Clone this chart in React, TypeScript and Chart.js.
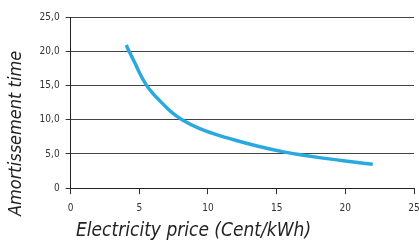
import React, { useEffect, useRef } from "react";
import { Chart, registerables } from "chart.js";

Chart.register(...registerables);

const prices = [4.05, 4.26, 4.7, 5.0, 5.47, 6.0, 6.5, 7.0, 7.5, 8.08, 9.4, 10.5, 12.0, 13.5, 15.5, 16.5, 18.0, 20.0, 22.0];
const amortisation = [20.9, 20.0, 18.2, 16.9, 15.2, 13.8, 12.75, 11.75, 10.85, 10.05, 8.7, 7.9, 7.0, 6.2, 5.3, 4.95, 4.5, 3.98, 3.5];
const xTicks = [0, 5, 10, 15, 20, 25];
const yTicks = [0, 5, 10, 15, 20, 25];
const xTitle = " Electricity price (Cent/kWh)";
const yTitle = "Amortissement time            ";

const FONT = "'Liberation Sans Narrow', 'DejaVu Sans Condensed', 'Liberation Sans', sans-serif";

export default function App() {
  const ref = useRef<HTMLCanvasElement | null>(null);
  useEffect(() => {
    if (!ref.current) return;
    const chart = new Chart(ref.current, {
      type: "scatter",
      data: {
        datasets: [
          {
            data: prices.map((p, i) => ({ x: p, y: amortisation[i] })),
            showLine: true,
            borderColor: "#29a9e0",
            borderWidth: 3.5,
            pointRadius: 0,
            cubicInterpolationMode: "monotone",
            fill: false,
          },
        ],
      },
      options: {
        animation: false,
        responsive: false,
        maintainAspectRatio: false,
        layout: { padding: { top: 17, right: 16, left: 0, bottom: 0 } },
        plugins: { legend: { display: false }, tooltip: { enabled: false } },
        scales: {
          x: {
            type: "linear",
            min: xTicks[0],
            max: xTicks[xTicks.length - 1],
            afterBuildTicks: (axis: any) => {
              axis.ticks = xTicks.map((v) => ({ value: v }));
            },
            ticks: {
              color: "#333",
              font: { family: FONT, size: 10 },
              padding: 8,
              maxRotation: 0,
              autoSkip: false,
              callback: (v: any) => String(v),
            },
            grid: {
              drawOnChartArea: false,
              drawTicks: true,
              tickLength: 6,
              color: "#222",
              tickColor: "#333",
              tickWidth: 1,
              lineWidth: 1,
            },
            border: { color: "#222", width: 1 },
            title: {
              display: true,
              text: xTitle,
              align: "start",
              color: "#222",
              font: { family: FONT, size: 19, style: "italic" },
              padding: { top: -3, bottom: 2 },
            },
          },
          y: {
            min: yTicks[0],
            max: yTicks[yTicks.length - 1],
            afterBuildTicks: (axis: any) => {
              axis.ticks = yTicks.map((v) => ({ value: v }));
            },
            ticks: {
              color: "#333",
              font: { family: FONT, size: 10 },
              padding: 6,
              autoSkip: false,
              callback: (v: any) => (Number(v) === 0 ? "0" : Number(v).toFixed(1).replace(".", ",")),
            },
            grid: { color: "#444", lineWidth: 1, tickLength: 5, tickColor: "#333", tickWidth: 1 },
            border: { color: "#222", width: 1 },
            title: {
              display: true,
              text: yTitle,
              align: "center",
              color: "#222",
              font: { family: FONT, size: 18, style: "italic" },
              padding: 6,
            },
          },
        },
      },
    });
    return () => chart.destroy();
  }, []);
  return (
    <div style={{ position: "absolute", left: 0, top: 0, width: 419, height: 244, overflow: "hidden", background: "#fff" }}>
      <canvas ref={ref} width={430} height={244} style={{ display: "block" }} />
    </div>
  );
}
